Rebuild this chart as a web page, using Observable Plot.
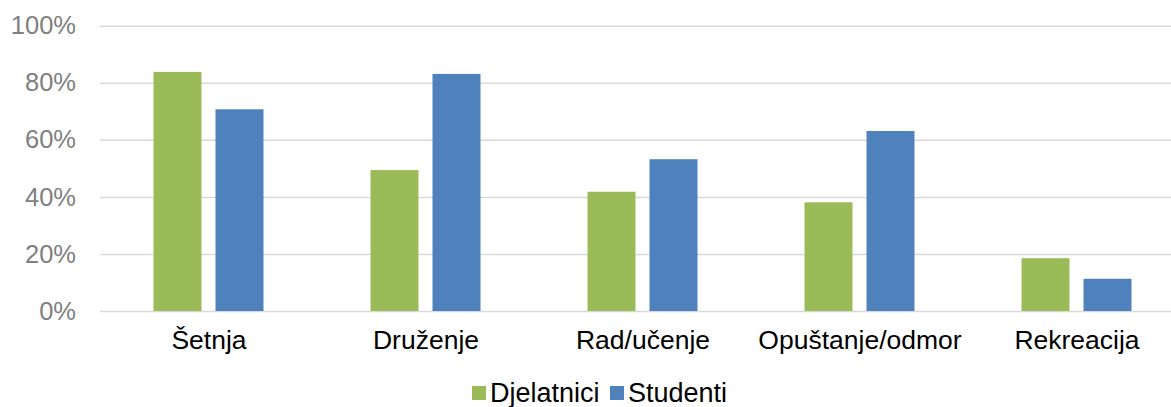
<!DOCTYPE html>
<html>
<head>
<meta charset="utf-8">
<script src="https://cdn.jsdelivr.net/npm/d3@7"></script>
<script src="https://cdn.jsdelivr.net/npm/@observablehq/plot@0.6"></script>
<style>
  body { margin: 0; background: #fff; font-family: "Liberation Sans", Arial, sans-serif; }
  #legend { height: 47px; position: relative; }
  .item { position: absolute; top: 19px; display: flex; align-items: center; font-size: 27px; line-height: 28px; color: #000; }
  .sw { width: 14px; height: 14px; margin-right: 4px; }
</style>
</head>
<body>
<div id="chart"></div>
<div id="legend"></div>
<script>
const categories = ["Šetnja", "Druženje", "Rad/učenje", "Opuštanje/odmor", "Rekreacija"];
const seriesNames = ["Djelatnici", "Studenti"];
const djelatnici = [0.838, 0.494, 0.418, 0.381, 0.185];
const studenti = [0.707, 0.831, 0.532, 0.631, 0.113];
const yTicks = [0, 0.2, 0.4, 0.6, 0.8, 1];
const colors = ["#9BBB59", "#4F81BD"];

const data = [];
categories.forEach((c, i) => {
  data.push({cat: c, series: seriesNames[0], value: djelatnici[i]});
  data.push({cat: c, series: seriesNames[1], value: studenti[i]});
});

const chart = Plot.plot({
  width: 1171,
  height: 360,
  marginLeft: 99.5,
  marginRight: 0,
  marginTop: 25.7,
  marginBottom: 49,
  style: {fontFamily: "'Liberation Sans', Arial, sans-serif", fontSize: "25.5px", background: "white", overflow: "visible"},
  fx: {domain: categories, range: [99.5, 1184.5], paddingInner: 0, paddingOuter: 0, label: null, tickSize: 0, tickPadding: 19, axis: "bottom"},
  x: {domain: seriesNames, paddingInner: 14 / 62, paddingOuter: 53.5 / 62, axis: null},
  y: {domain: [0, 1], ticks: yTicks, tickFormat: d => Math.round(d * 100) + "%", tickSize: 0, tickPadding: 24.5, label: null},
  color: {domain: seriesNames, range: colors},
  marks: [
    Plot.ruleY(yTicks, {stroke: "#d9d9d9", strokeWidth: 1.5}),
    Plot.barY(data, {fx: "cat", x: "series", y: "value", fill: "series"})
  ]
});
chart.querySelectorAll("g[aria-label='y-axis'] text, g[aria-label='y-axis tick label'] text").forEach(t => t.setAttribute("fill", "#7f7f7f"));
chart.querySelectorAll("g[aria-label='fx-axis'] text, g[aria-label='fx-axis tick label'] text").forEach(t => t.setAttribute("font-size", "26.5px"));
document.getElementById("chart").appendChild(chart);

const legend = document.getElementById("legend");
const lx = [472, 610];
seriesNames.forEach((s, i) => {
  const it = document.createElement("div");
  it.className = "item";
  it.style.left = lx[i] + "px";
  it.innerHTML = `<span class="sw" style="background:${colors[i]}"></span><span>${s}</span>`;
  legend.appendChild(it);
});
</script>
</body>
</html>
